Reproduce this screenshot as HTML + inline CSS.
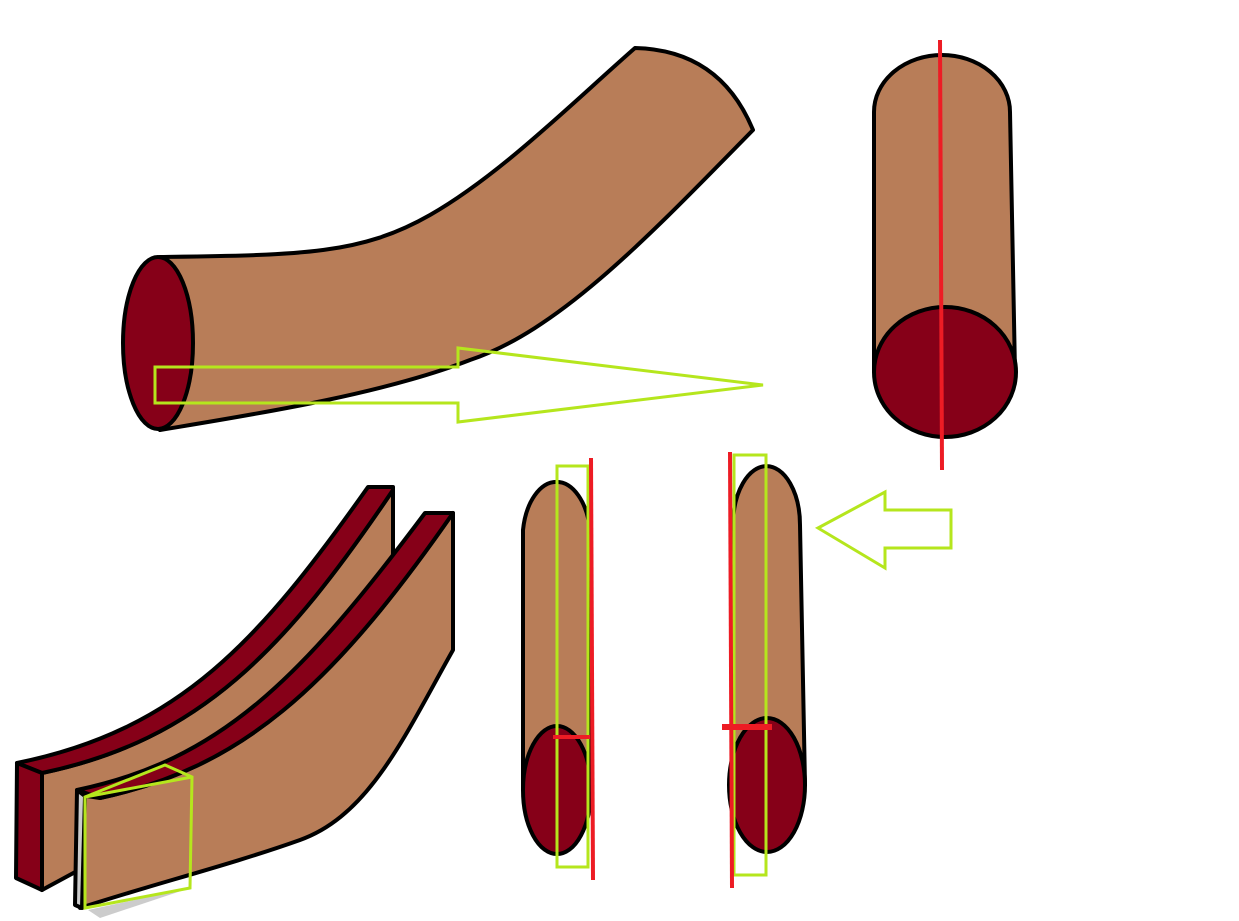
<!DOCTYPE html>
<html><head><style>html,body{margin:0;padding:0;background:#fff}svg{display:block}</style></head>
<body>
<svg width="1239" height="921" viewBox="0 0 1239 921" xmlns="http://www.w3.org/2000/svg">
<g stroke="#000" stroke-width="4" stroke-linejoin="round">
<!-- top curved tube -->
<path d="M160,257 C300,255 360,255 430,215 C500,175 570,105 635,48 Q720,50 753,130 C650,235 560,330 470,360 C380,395 250,415 160,430 Z" fill="#B87D58"/>
<ellipse cx="158" cy="343" rx="35" ry="86" fill="#860018"/>
<!-- top right cylinder -->
<path d="M874,372 L874,112 A68,57 0 0 1 1010,112 L1015,372 Z" fill="#B87D58"/>
<ellipse cx="945" cy="372" rx="71" ry="65" fill="#860018"/>
<!-- middle cylinder 1 -->
<path d="M523,790 L523,530 A34,58 0 0 1 590,530 L590,790 Z" fill="#B87D58"/>
<ellipse cx="557" cy="790" rx="34" ry="64" fill="#860018"/>
<!-- middle cylinder 2 -->
<path d="M733,785 L733,525 A33,58 0 0 1 800,525 L805,785 Z" fill="#B87D58"/>
<ellipse cx="767" cy="785" rx="38" ry="67" fill="#860018"/>
<!-- back strip -->
<path d="M42,773 C200,740 285,650 393,490 L393,700 L42,890 Z" fill="#B87D58"/>
<path d="M17,763 C180,730 260,640 368,487 L393,487 L393,490 C285,650 200,740 42,773 Z" fill="#860018"/>
<path d="M17,763 L42,773 L42,890 L16,878 Z" fill="#860018"/>
<!-- front strip -->
<path d="M100,798 C240,768 330,690 453,513 L453,650 C405,735 370,815 300,840 C230,865 150,885 80,908 L80,795 Z" fill="#B87D58"/>
<path d="M77,790 C220,760 300,680 425,513 L453,513 C330,690 240,768 100,798 Z" fill="#860018"/>
<path d="M77,790 L85,796 L82,908 L75,905 Z" fill="#ccc"/>
</g>
<path d="M88,910 L190,888 L100,918 Z" fill="#ccc"/>
<!-- green outlines -->
<g fill="none" stroke="#B5E61D" stroke-width="3">
<polygon points="155,367 458,367 458,348 763,385 458,422 458,403 155,403"/>
<polygon points="818,528 885,492 885,510 951,510 951,548 885,548 885,568"/>
<rect x="557" y="466" width="31" height="401"/>
<rect x="734" y="455" width="32" height="420"/>
<polygon points="85,797 165,765 192,777 190,888 85,908"/>
<line x1="85" y1="797" x2="192" y2="777"/>
</g>
<!-- red lines -->
<g stroke="#ED1C24" stroke-width="4">
<line x1="940" y1="40" x2="942" y2="470"/>
<line x1="591" y1="458" x2="593" y2="880"/>
<line x1="553" y1="737" x2="590" y2="737"/>
<line x1="730" y1="452" x2="732" y2="888"/>
<line x1="722" y1="727" x2="772" y2="727" stroke-width="6"/>
</g>
</svg>
</body></html>
